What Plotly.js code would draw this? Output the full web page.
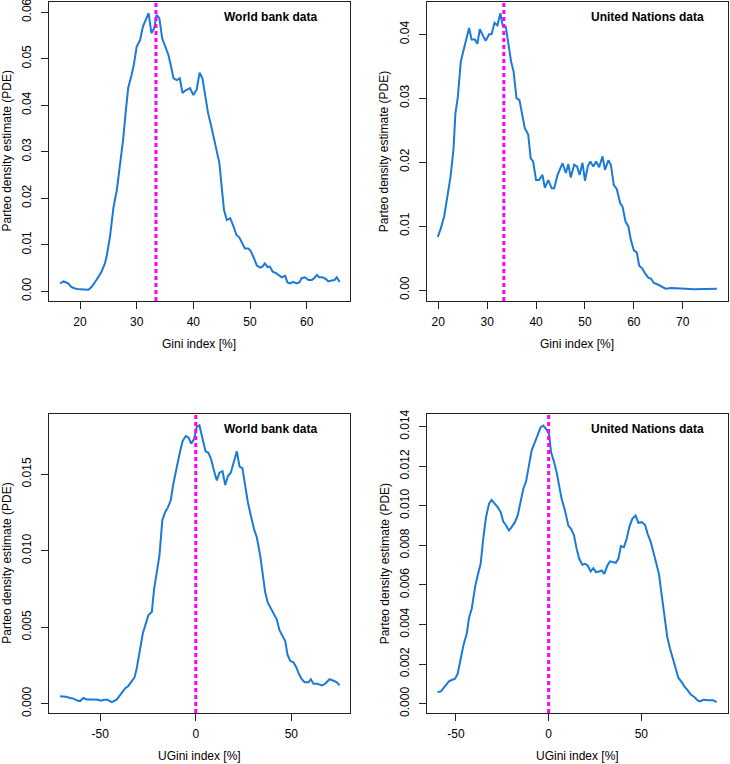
<!DOCTYPE html>
<html>
<head>
<meta charset="utf-8">
<script src="https://cdn.plot.ly/plotly-3.0.1.min.js"></script>
<style>
  html, body { margin: 0; padding: 0; background: #fff; }
  #plot { width: 730px; height: 764px; }
</style>
</head>
<body>
<div id="plot"></div>
<script>
// World bank, Gini index
var wbGiniX = [16.5, 17.1, 17.9, 18.5, 19.1, 20.0, 21.5, 22.1, 22.9, 23.8, 24.4, 24.7,
    25.3, 25.9, 26.5, 27.1, 27.6, 28.1, 28.5, 29.1, 29.5, 30.0, 30.6, 31.1, 31.6, 32.1,
    32.6, 33.1, 33.5, 34.0, 34.5, 35.0, 35.6, 36.0, 36.5, 37.1, 37.6, 38.1, 38.5, 39.4,
    40.0, 40.6, 41.1, 41.6, 42.1, 42.6, 43.1, 43.5, 44.1, 44.6, 45.0, 45.4, 45.9, 46.5,
    47.1, 47.6, 48.1, 48.7, 49.1, 49.7, 50.1, 50.7, 51.2, 51.8, 52.2, 52.6, 53.1, 53.5,
    54.0, 54.6, 55.2, 55.6, 56.2, 56.6, 57.1, 57.6, 58.2, 58.7, 59.1, 59.7, 60.3, 60.9,
    61.3, 61.8, 62.2, 62.8, 63.4, 63.8, 64.4, 64.9, 65.3, 65.8];
var wbGiniY = [0.0017, 0.0021, 0.0017, 0.0009, 0.0006, 0.0004, 0.0003, 0.0010, 0.0024,
    0.0042, 0.0060, 0.0075, 0.0118, 0.0180, 0.0218, 0.0275, 0.0325, 0.0390, 0.0437,
    0.0465, 0.0487, 0.0526, 0.0540, 0.0569, 0.0583, 0.0598, 0.0555, 0.0566, 0.0594,
    0.0587, 0.0544, 0.0526, 0.0508, 0.0487, 0.0458, 0.0454, 0.0458, 0.0426, 0.0431,
    0.0437, 0.0422, 0.0434, 0.0470, 0.0458, 0.0422, 0.0383, 0.0358, 0.0336, 0.0308,
    0.0275, 0.0225, 0.0175, 0.0153, 0.0157, 0.0139, 0.0121, 0.0116, 0.0100, 0.0092,
    0.0092, 0.0087, 0.0071, 0.0055, 0.0051, 0.0053, 0.0060, 0.0052, 0.0053, 0.0042,
    0.0039, 0.0033, 0.0030, 0.0033, 0.0019, 0.0017, 0.0020, 0.0017, 0.0019, 0.0028,
    0.0030, 0.0024, 0.0024, 0.0028, 0.0035, 0.0030, 0.0030, 0.0026, 0.0021, 0.0023,
    0.0024, 0.0030, 0.0020];

// United Nations, Gini index
var unGiniX = [19.9, 20.5, 21.2, 21.9, 22.5, 23.1, 23.5, 24.0, 24.6, 25.1, 25.8, 26.3,
    26.8, 27.5, 28.0, 28.5, 29.2, 29.7, 30.4, 30.9, 31.5, 32.1, 32.7, 33.2, 33.8, 34.3,
    34.9, 35.4, 36.0, 36.6, 37.2, 37.7, 38.4, 38.9, 39.4, 40.0, 40.6, 41.3, 41.8, 42.5,
    43.2, 43.7, 44.4, 44.9, 45.4, 46.1, 46.6, 47.1, 47.8, 48.4, 48.9, 49.5, 50.0, 50.6,
    51.1, 51.7, 52.3, 52.9, 53.6, 54.1, 54.8, 55.3, 55.9, 56.5, 57.2, 57.7, 58.3, 58.9,
    59.4, 60.0, 60.6, 61.1, 61.7, 62.3, 63.0, 63.5, 64.1, 64.8, 65.5, 66.0, 66.5, 67.7,
    69.1, 70.5, 72.2, 73.5, 74.6, 77.0];
var unGiniY = [0.0083, 0.0096, 0.0115, 0.0146, 0.0177, 0.0219, 0.0276, 0.0302, 0.0357,
    0.0373, 0.0394, 0.0410, 0.0392, 0.0392, 0.0385, 0.0408, 0.0397, 0.0390, 0.0400,
    0.0400, 0.0418, 0.0414, 0.0433, 0.0413, 0.0412, 0.0389, 0.0357, 0.0342, 0.0300,
    0.0297, 0.0274, 0.0253, 0.0243, 0.0206, 0.0201, 0.0172, 0.0172, 0.0180, 0.0160,
    0.0172, 0.0159, 0.0159, 0.0180, 0.0189, 0.0198, 0.0183, 0.0197, 0.0176, 0.0196,
    0.0193, 0.0180, 0.0199, 0.0171, 0.0194, 0.0201, 0.0193, 0.0201, 0.0192, 0.0209,
    0.0188, 0.0203, 0.0196, 0.0164, 0.0158, 0.0136, 0.0130, 0.0107, 0.0099, 0.0078,
    0.0062, 0.0059, 0.0038, 0.0034, 0.0026, 0.0019, 0.0018, 0.0011, 0.0009, 0.0006,
    0.0005, 0.0002, 0.0003, 0.0002, 0.0002, 0.0001, 0.0001, 0.0002, 0.0002];

// World bank, UGini index
var wbUGiniX = [-71.0, -67.9, -65.8, -64.0, -62.0, -60.6, -58.8, -57.1, -53.6, -51.0,
    -49.7, -48.0, -46.2, -44.0, -41.4, -39.3, -37.0, -35.3, -33.5, -32.1, -30.9, -29.1,
    -27.7, -26.2, -24.8, -23.0, -21.8, -20.4, -19.0, -17.5, -16.1, -14.7, -13.1, -11.7,
    -9.9, -8.2, -6.8, -5.2, -3.8, -2.4, -0.9, 0.5, 1.9, 3.5, 5.1, 6.6, 8.0, 9.6, 11.0,
    12.4, 14.0, 15.4, 16.9, 18.3, 19.7, 21.5, 22.9, 24.4, 25.8, 27.2, 28.8, 30.5, 31.9,
    33.7, 34.9, 36.3, 37.7, 39.3, 40.7, 42.4, 43.8, 45.4, 46.8, 48.0, 49.4, 51.1, 52.5,
    54.1, 55.5, 56.9, 59.0, 60.2, 61.6, 63.7, 66.0, 67.7, 70.0, 72.1, 73.8, 75.2];
var wbUGiniY = [0.00048, 0.00046, 0.00037, 0.00033, 0.00020, 0.00017, 0.00037, 0.00028,
    0.00028, 0.00026, 0.00020, 0.00026, 0.00026, 0.00010, 0.00026, 0.00059, 0.00100,
    0.00116, 0.00150, 0.00170, 0.00230, 0.00360, 0.00460, 0.00520, 0.00580, 0.00600,
    0.00750, 0.00860, 0.00970, 0.01200, 0.01250, 0.01280, 0.01330, 0.01440, 0.01560,
    0.01650, 0.01720, 0.01750, 0.01740, 0.01700, 0.01730, 0.01810, 0.01820, 0.01730,
    0.01650, 0.01640, 0.01600, 0.01520, 0.01460, 0.01510, 0.01520, 0.01430, 0.01490,
    0.01510, 0.01570, 0.01650, 0.01550, 0.01540, 0.01430, 0.01320, 0.01230, 0.01140,
    0.01090, 0.00970, 0.00860, 0.00730, 0.00660, 0.00620, 0.00590, 0.00550, 0.00480,
    0.00440, 0.00410, 0.00320, 0.00280, 0.00270, 0.00240, 0.00190, 0.00160, 0.00140,
    0.00140, 0.00160, 0.00130, 0.00130, 0.00120, 0.00130, 0.00160, 0.00150, 0.00140,
    0.00120];

// United Nations, UGini index
var unUGiniX = [-59.9, -58.1, -55.9, -53.8, -52.0, -50.5, -49.1, -47.8, -46.0, -44.2,
    -42.9, -41.5, -39.7, -38.3, -36.7, -35.3, -33.8, -32.2, -30.8, -29.0, -27.5, -25.9,
    -24.5, -23.2, -21.4, -20.0, -18.2, -16.7, -15.5, -13.7, -12.2, -10.6, -9.2, -7.4,
    -5.9, -4.3, -2.9, -1.4, 0.2, 1.3, 2.7, 4.3, 5.8, 7.0, 8.8, 10.6, 12.1, 13.7, 15.1,
    16.5, 18.2, 19.6, 21.0, 22.7, 24.1, 25.5, 27.2, 28.6, 30.0, 31.7, 33.1, 34.5, 36.2,
    37.6, 39.0, 40.6, 42.1, 43.5, 45.1, 46.9, 48.4, 50.2, 52.0, 53.4, 55.0, 56.5, 57.9,
    59.5, 61.0, 62.4, 64.0, 65.5, 67.3, 68.5, 70.0, 71.8, 73.2, 75.0, 76.8, 78.6, 80.4,
    81.7, 83.5, 86.2, 88.8, 90.6];
var unUGiniY = [0.00059, 0.00062, 0.00089, 0.00113, 0.00121, 0.00126, 0.00151, 0.00219,
    0.00294, 0.00353, 0.00437, 0.00480, 0.00589, 0.00648, 0.00707, 0.00833, 0.00942,
    0.01010, 0.01030, 0.01010, 0.00993, 0.00968, 0.00920, 0.00904, 0.00875, 0.00892,
    0.00917, 0.00951, 0.01010, 0.01085, 0.01122, 0.01203, 0.01279, 0.01321, 0.01363,
    0.01397, 0.01405, 0.01388, 0.01363, 0.01270, 0.01228, 0.01170, 0.01094, 0.01035,
    0.00976, 0.00900, 0.00883, 0.00850, 0.00782, 0.00732, 0.00702, 0.00707, 0.00698,
    0.00668, 0.00685, 0.00665, 0.00668, 0.00673, 0.00656, 0.00698, 0.00719, 0.00715,
    0.00712, 0.00732, 0.00796, 0.00791, 0.00833, 0.00892, 0.00934, 0.00951, 0.00914,
    0.00917, 0.00904, 0.00858, 0.00819, 0.00766, 0.00715, 0.00656, 0.00547, 0.00437,
    0.00337, 0.00278, 0.00219, 0.00177, 0.00130, 0.00109, 0.00087, 0.00067, 0.00045,
    0.00034, 0.00017, 0.00012, 0.00020, 0.00017, 0.00017, 0.00008];

// dashed vertical markers
var markerX = [33.4, 33.4, 0, 0];

var panelLabels = ['World bank data', 'United Nations data', 'World bank data', 'United Nations data'];
var xTitles = ['Gini index [%]', 'Gini index [%]', 'UGini index [%]', 'UGini index [%]'];
var yTitle = 'Parteo density estimate (PDE)';

var xTicksTop1 = [20, 30, 40, 50, 60];
var xTicksTop2 = [20, 30, 40, 50, 60, 70];
var xTicksBottom = [-50, 0, 50];
var xTickTextBottom = ['-50', '0', '50'];
var yTicks1 = [0, 0.01, 0.02, 0.03, 0.04, 0.05, 0.06];
var yTickText1 = ['0.00', '0.01', '0.02', '0.03', '0.04', '0.05', '0.06'];
var yTicks2 = [0, 0.01, 0.02, 0.03, 0.04];
var yTickText2 = ['0.00', '0.01', '0.02', '0.03', '0.04'];
var yTicks3 = [0, 0.005, 0.010, 0.015];
var yTickText3 = ['0.000', '0.005', '0.010', '0.015'];
var yTicks4 = [0, 0.002, 0.004, 0.006, 0.008, 0.010, 0.012, 0.014];
var yTickText4 = ['0.000', '0.002', '0.004', '0.006', '0.008', '0.010', '0.012', '0.014'];

var W = 730, H = 764;
var fontFam = '"Liberation Sans", Arial, Helvetica, sans-serif';
var lineCol = '#1a7ad8';

function curve(x, y, n) {
    var s = n === 1 ? '' : n;
    return {
        x: x, y: y, type: 'scatter', mode: 'lines',
        xaxis: 'x' + s, yaxis: 'y' + s,
        line: {color: lineCol, width: 2},
        hoverinfo: 'skip'
    };
}

var traces = [
    curve(wbGiniX, wbGiniY, 1),
    curve(unGiniX, unGiniY, 2),
    curve(wbUGiniX, wbUGiniY, 3),
    curve(unUGiniX, unUGiniY, 4)
];

function xax(domain, range, vals, text, anchor) {
    return {
        domain: domain, range: range, anchor: anchor,
        tickvals: vals, ticktext: text,
        ticks: 'outside', ticklen: 7, tickwidth: 1, tickcolor: '#222',
        ticklabelstandoff: 3, ticklabeloverflow: 'allow',
        showline: true, mirror: true, linecolor: '#222', linewidth: 1,
        showgrid: false, zeroline: false, automargin: false,
        tickfont: {size: 12, color: '#000'}
    };
}
function yax(domain, range, vals, text, anchor) {
    var a = xax(domain, range, vals, text, anchor);
    a.tickangle = -90;
    a.ticklabelstandoff = 5;
    return a;
}

// plot frames in paper fractions
var colL = [49 / W, 350 / W];
var colR = [426.7 / W, 727.7 / W];
var rowT = [1 - 301 / H, 1 - 2 / H];
var rowB = [1 - 713 / H, 1 - 414.3 / H];

var layout = {
    width: W, height: H,
    margin: {l: 0, r: 0, t: 0, b: 0},
    paper_bgcolor: '#fff', plot_bgcolor: '#fff',
    showlegend: false,
    font: {family: fontFam, size: 12, color: '#000'},
    xaxis: xax(colL, [14.53, 67.64], xTicksTop1, xTicksTop1.map(String), 'y'),
    yaxis: yax(rowT, [-0.0021, 0.0622], yTicks1, yTickText1, 'x'),
    xaxis2: xax(colR, [17.63, 79.2], xTicksTop2, xTicksTop2.map(String), 'y2'),
    yaxis2: yax(rowT, [-0.00172, 0.04505], yTicks2, yTickText2, 'x2'),
    xaxis3: xax(colL, [-76.8, 80.7], xTicksBottom, xTickTextBottom, 'y3'),
    yaxis3: yax(rowB, [-0.00061, 0.01892], yTicks3, yTickText3, 'x3'),
    xaxis4: xax(colR, [-65.8, 96.6], xTicksBottom, xTickTextBottom, 'y4'),
    yaxis4: yax(rowB, [-0.00047, 0.01462], yTicks4, yTickText4, 'x4'),
    shapes: [],
    annotations: []
};

var cols = [colL, colR, colL, colR];
var rows = [rowT, rowT, rowB, rowB];
var labelX = [270, 647.5, 270, 647.5];
var labelY = [17, 17, 429, 429];

for (var i = 0; i < 4; i++) {
    var s = i === 0 ? '' : (i + 1);
    layout.shapes.push({
        type: 'line', xref: 'x' + s, yref: 'y' + s + ' domain',
        x0: markerX[i], x1: markerX[i], y0: 0, y1: 1,
        line: {color: '#ff00ff', width: 3, dash: '4px,3px'}
    });
    layout.annotations.push({
        xref: 'paper', yref: 'paper',
        x: labelX[i] / W, y: 1 - labelY[i] / H,
        xanchor: 'center', yanchor: 'middle', showarrow: false,
        text: '<b>' + panelLabels[i] + '</b>',
        font: {size: 12, color: '#000'}
    });
    layout.annotations.push({
        xref: 'paper', yref: 'paper',
        x: (cols[i][0] + cols[i][1]) / 2, y: rows[i][0] - 43 / H,
        xanchor: 'center', yanchor: 'middle', showarrow: false,
        text: xTitles[i], font: {size: 12, color: '#000'}
    });
    layout.annotations.push({
        xref: 'paper', yref: 'paper',
        x: cols[i][0] - 42 / W, y: (rows[i][0] + rows[i][1]) / 2,
        xanchor: 'center', yanchor: 'middle', showarrow: false,
        textangle: -90,
        text: yTitle, font: {size: 12, color: '#000'}
    });
}

Plotly.newPlot('plot', traces, layout, {displayModeBar: false, staticPlot: true});
</script>
</body>
</html>
